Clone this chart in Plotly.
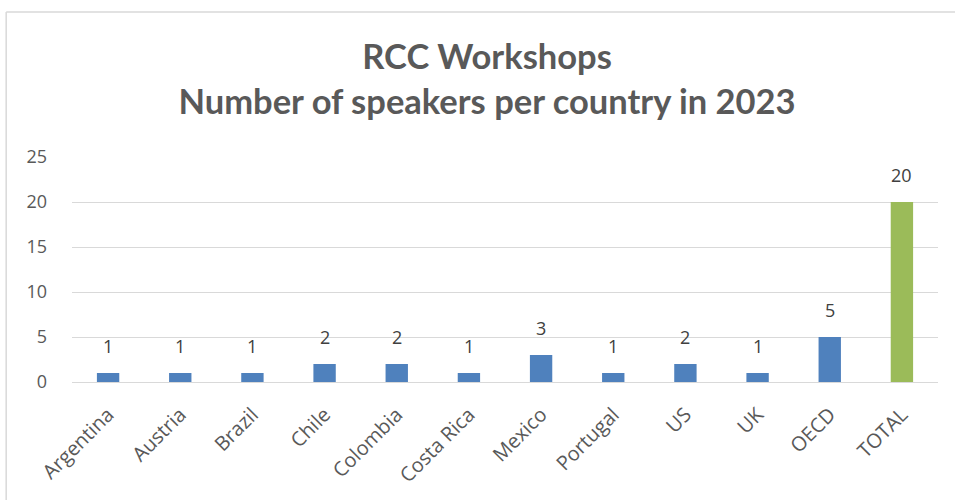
import plotly.graph_objects as go

categories = ["Argentina", "Austria", "Brazil", "Chile", "Colombia", "Costa Rica",
              "Mexico", "Portugal", "US", "UK", "OECD", "TOTAL"]
speakers = [1, 1, 1, 2, 2, 1, 3, 1, 2, 1, 5, 20]
bar_colors = ["#4F81BD"] * 11 + ["#9BBB59"]
y_ticks = [0, 5, 10, 15, 20, 25]

fig = go.Figure()
fig.add_trace(go.Bar(
    x=categories, y=speakers, marker_color=bar_colors, width=0.31,
    marker_line_width=0, hoverinfo="skip",
))

for c, v in zip(categories, speakers):
    fig.add_annotation(x=c, y=v, text=str(v), showarrow=False, yanchor="bottom",
                       yshift=13, font=dict(family="Open Sans", size=18, color="#404040"))

# chart-area border (left and top edges visible in the frame)
border = dict(color="#D9D9D9", width=1.5)
fig.add_shape(type="line", xref="paper", yref="paper", x0=-0.076, x1=-0.076, y0=-0.8, y1=1.644,
              line=border, layer="below")
fig.add_shape(type="line", xref="paper", yref="paper", x0=-0.076, x1=1.2, y0=1.644, y1=1.644,
              line=border, layer="below")

fig.update_layout(
    width=955, height=500,
    margin=dict(l=72, r=17, t=157, b=118),
    paper_bgcolor="white", plot_bgcolor="white",
    showlegend=False,
    title=dict(text="<b>RCC Workshops<br>Number of speakers per country in 2023</b>",
               x=0.51, xanchor="center", y=0.862, yanchor="middle",
               font=dict(family="Lato", size=34.5, color="#595959")),
    xaxis=dict(tickangle=-45, tickfont=dict(family="Open Sans", size=20, color="#595959"),
               showgrid=False, showline=True, linecolor="#D9D9D9", ticks="",
               ticklabelstandoff=12),
    yaxis=dict(range=[0, 25], tickvals=y_ticks, showgrid=True, gridcolor="#D9D9D9",
               zeroline=False, tickfont=dict(family="Open Sans", size=18, color="#595959"),
               ticklabelstandoff=24),
)

fig.write_html("out.html", config={"displayModeBar": False},
               post_script="document.body.style.margin='0';document.body.style.overflow='hidden';"
                           "document.documentElement.style.overflow='hidden';")
